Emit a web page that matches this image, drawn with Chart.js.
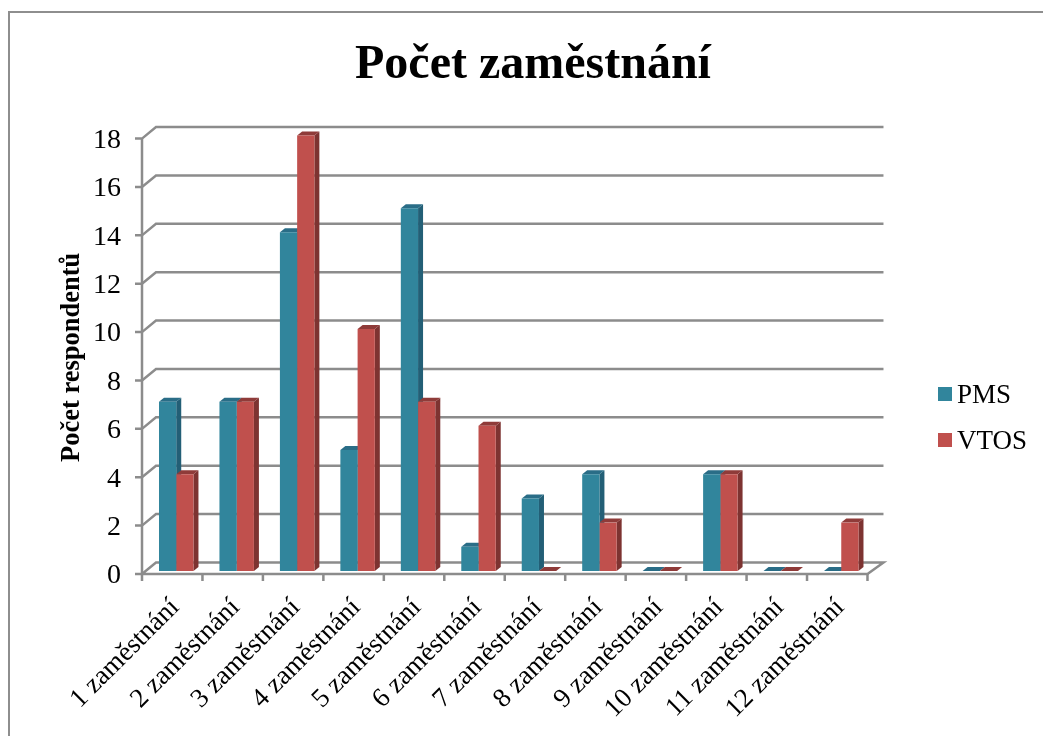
<!DOCTYPE html>
<html><head><meta charset="utf-8">
<style>html,body{margin:0;padding:0;background:#fff}canvas{display:block}</style>
<script src="https://cdn.jsdelivr.net/npm/chart.js@4"></script>
</head><body><canvas id="c" width="1043" height="736"></canvas>
<script>
const categories=["1 zaměstnání","2 zaměstnání","3 zaměstnání","4 zaměstnání","5 zaměstnání","6 zaměstnání","7 zaměstnání","8 zaměstnání","9 zaměstnání","10 zaměstnání","11 zaměstnání","12 zaměstnání"];
const pms=[7,7,14,5,15,1,3,4,0,4,0,0];
const vtos=[4,7,18,10,7,6,0,2,0,4,0,2];
const titleText="Počet zaměstnání";
const yTitle="Počet respondentů";
const SERIF='"Liberation Serif","Times New Roman",serif';
const GRID='#8c8c8c';
const sides={PMS:['#235f76','#2a6d87'],VTOS:['#7d3331','#8f3b39']};

const scene={
  id:'scene',
  beforeDraw(ch){
    const g=ch.ctx,y=ch.scales.y,a=ch.chartArea;
    g.save();
    g.strokeStyle='#8e8e8e';g.lineWidth=2;
    g.beginPath();g.moveTo(9,737);g.lineTo(9,12);g.lineTo(1044,12);g.stroke();
    const fx=a.left-4,rx=a.right-4,dy=3;
    g.strokeStyle=GRID;g.lineWidth=2.5;
    for(const t of y.ticks){
      const p=y.getPixelForValue(t.value);
      g.beginPath();
      g.moveTo(fx-7,p+dy);g.lineTo(fx,p+dy);g.lineTo(fx+14,p+dy-11.5);g.lineTo(rx+16,p+dy-11.5);
      if(t.value===0){g.lineTo(rx,p+dy);g.lineTo(fx,p+dy);}
      g.stroke();
    }
    const by=y.getPixelForValue(0)+dy,ty=y.getPixelForValue(18)+dy;
    g.beginPath();g.moveTo(fx,by);g.lineTo(fx,ty);g.stroke();
    g.beginPath();
    for(let i=0;i<=categories.length;i++){
      const x=fx+(rx-fx)*i/categories.length;
      g.moveTo(x,by);g.lineTo(x,by+7);
    }
    g.stroke();
    g.restore();
  },
  beforeDatasetsDraw(ch){
    const g=ch.ctx,dx=5,dy=4;
    g.save();
    ch.data.datasets.forEach((ds,i)=>{
      const s=sides[ds.label];
      ch.getDatasetMeta(i).data.forEach(b=>{
        const {x,y,width,base}=b.getProps(['x','y','width','base'],true);
        const l=x-width/2,r=x+width/2;
        g.fillStyle=s[0];
        g.beginPath();g.moveTo(r,y);g.lineTo(r+dx,y-dy);g.lineTo(r+dx,base-dy);g.lineTo(r,base);g.closePath();g.fill();
        g.fillStyle=s[1];
        g.beginPath();g.moveTo(l,y);g.lineTo(l+dx,y-dy);g.lineTo(r+dx,y-dy);g.lineTo(r,y);g.closePath();g.fill();
      });
    });
    g.restore();
  },
  afterLayout(ch){
    const L=ch.legend;
    L.left=924.5;L.right=1043;L.top=363.5;L.bottom=736;
    ch.titleBlock.left+=15;ch.titleBlock.right+=15;
    ch.scales.y.top+=4;ch.scales.y.bottom+=4;
  },
  afterDraw(ch){
    const g=ch.ctx,L=ch.legend;
    g.save();
    L.legendHitBoxes.forEach((h,i)=>{
      g.fillStyle=ch.data.datasets[i].backgroundColor;
      g.fillRect(h.left-5.5,h.top+h.height/2-9,14,14);
    });
    g.restore();
  }
};

new Chart(document.getElementById('c'),{
  type:'bar',
  data:{labels:categories,datasets:[
    {label:'PMS',data:pms,backgroundColor:'#31859c',clip:false},
    {label:'VTOS',data:vtos,backgroundColor:'#c0504d',clip:false}
  ]},
  plugins:[scene],
  options:{
    responsive:false,animation:false,
    layout:{padding:{top:37,left:52,right:59,bottom:6}},
    datasets:{bar:{barPercentage:1,categoryPercentage:0.57}},
    plugins:{
      title:{display:true,text:titleText,color:'#000',font:{family:SERIF,size:48,weight:'bold'},padding:{top:0,bottom:41}},
      legend:{position:'right',align:'start',labels:{boxWidth:0,boxHeight:14,padding:19,color:'#000',font:{family:SERIF,size:27}}},
      tooltip:{enabled:false}
    },
    scales:{
      x:{grid:{display:false},border:{display:false},afterFit(s){s.height=159;},
         ticks:{maxRotation:45,minRotation:45,autoSkip:false,color:'#000',padding:13,labelOffset:-1,font:{family:SERIF,size:27}}},
      y:{min:0,max:18,grid:{display:false},border:{display:false},afterFit(s){s.width=94;},
         ticks:{stepSize:2,color:'#000',padding:17,labelOffset:5,font:{family:SERIF,size:28}},
         title:{display:true,text:yTitle,color:'#000',font:{family:SERIF,size:26.5,weight:'bold'}}}
    }
  }
});
</script></body></html>
